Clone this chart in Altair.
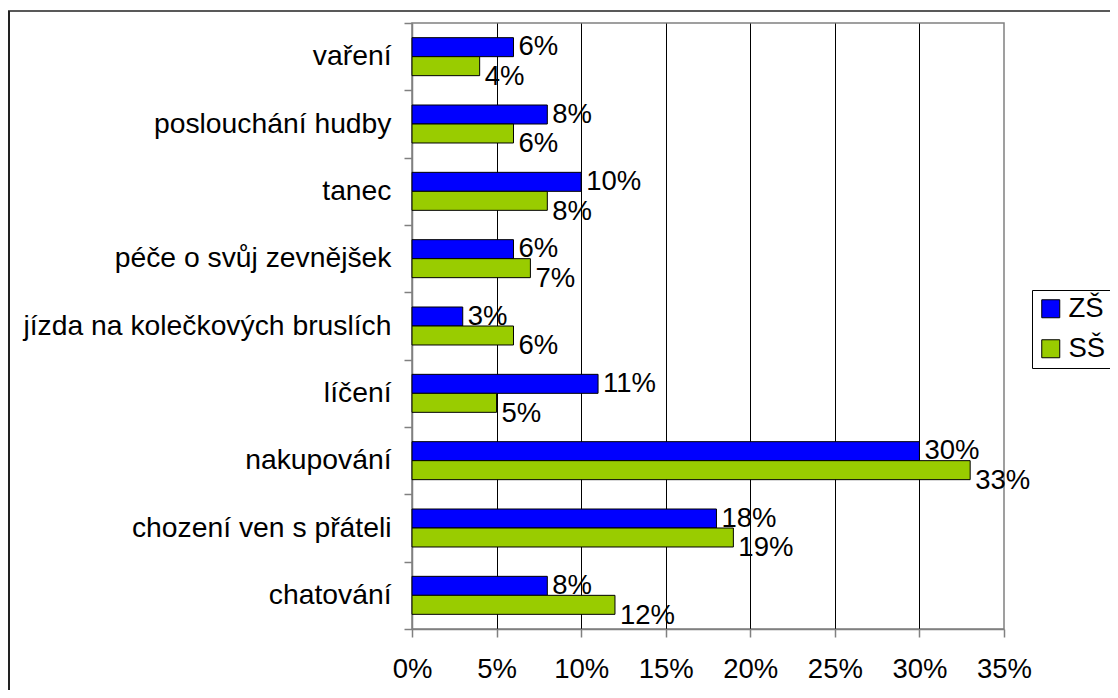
import altair as alt
import pandas as pd

categories = [
    "vaření",
    "poslouchání hudby",
    "tanec",
    "péče o svůj zevnějšek",
    "jízda na kolečkových bruslích",
    "líčení",
    "nakupování",
    "chození ven s přáteli",
    "chatování",
]
groups = ["ZŠ", "SŠ"]
zs_values = [6, 8, 10, 6, 3, 11, 30, 18, 8]
ss_values = [4, 6, 8, 7, 6, 5, 33, 19, 12]
colors = ["#0000FF", "#99CC00"]
x_ticks = [0, 5, 10, 15, 20, 25, 30, 35]

rows = []
for i, c in enumerate(categories):
    rows.append({"kategorie": c, "skupina": groups[0], "hodnota": zs_values[i]})
    rows.append({"kategorie": c, "skupina": groups[1], "hodnota": ss_values[i]})
df = pd.DataFrame(rows)

FONT = "Liberation Sans"
FS = 27.5
GRAY = "#808080"

y_enc = alt.Y(
    "kategorie:N",
    sort=categories,
    scale=alt.Scale(paddingInner=0, paddingOuter=0),
    axis=alt.Axis(
        title=None,
        tickBand="extent",
        domainColor=GRAY,
        domainWidth=1.5,
        tickColor=GRAY,
        tickWidth=1.5,
        tickSize=8,
        labelFontSize=28.3,
        labelFont=FONT,
        labelColor="black",
        labelPadding=13,
        labelLimit=0,
        grid=False,
    ),
)
yoff = alt.YOffset(
    "skupina:N", sort=groups, scale=alt.Scale(paddingInner=0, paddingOuter=0.772)
)
x_enc = alt.X(
    "hodnota:Q",
    scale=alt.Scale(domain=[0, 35], nice=False),
    axis=alt.Axis(
        title=None,
        values=x_ticks,
        labelExpr="datum.value + '%'",
        labelFlush=False,
        labelFontSize=FS,
        labelFont=FONT,
        labelColor="black",
        labelPadding=18,
        domainColor=GRAY,
        domainWidth=1.5,
        tickColor=GRAY,
        tickWidth=1.5,
        tickSize=8,
        grid=True,
        gridColor="black",
        gridWidth=1,
        gridOpacity={
            "condition": {"test": "datum.value <= 0 || datum.value >= 35", "value": 0},
            "value": 1,
        },
    ),
)

bars = alt.Chart(df).mark_bar(stroke="black", strokeWidth=1).encode(
    y=y_enc,
    yOffset=yoff,
    x=x_enc,
    color=alt.Color(
        "skupina:N",
        sort=groups,
        scale=alt.Scale(domain=groups, range=colors),
        legend=alt.Legend(
            title=None,
            orient="none",
            legendX=620,
            legendY=267,
            direction="vertical",
            strokeColor="black",
            fillColor="white",
            padding=5,
            symbolType="square",
            symbolSize=324,
            symbolStrokeColor="black",
            symbolStrokeWidth=1,
            symbolOpacity=1,
            labelFontSize=FS,
            labelFont=FONT,
            labelColor="black",
            rowPadding=11,
            labelOffset=4,
        ),
    ),
)


def label_layer(group, dy):
    return (
        alt.Chart(df)
        .transform_filter(alt.datum.skupina == group)
        .transform_calculate(txt="datum.hodnota + '%'")
        .mark_text(
            align="left",
            baseline="middle",
            dx=5,
            dy=dy,
            fontSize=FS,
            font=FONT,
            color="black",
        )
        .encode(
            y=alt.Y("kategorie:N", sort=categories),
            yOffset=alt.YOffset("skupina:N", sort=groups),
            x=alt.X("hodnota:Q"),
            text="txt:N",
        )
    )


frame_data = alt.Data(values=[{"f": 1}])
frame_left = alt.Chart(frame_data).mark_rule(color="#222222", strokeWidth=2).encode(
    x=alt.value(-403), y=alt.value(-12), y2=alt.value(700)
)
frame_top = alt.Chart(frame_data).mark_rule(color="#222222", strokeWidth=1.5).encode(
    x=alt.value(-404), x2=alt.value(720), y=alt.value(-12)
)

chart = (
    alt.layer(bars, label_layer("ZŠ", 0), label_layer("SŠ", 11), frame_left, frame_top)
    .properties(
        width=592,
        height=606,
        autosize=alt.AutoSizeParams(type="none"),
        padding={"left": 404, "top": 15, "right": 106, "bottom": 61},
    )
    .configure_view(stroke=GRAY, strokeWidth=1.5)
)

chart.save("out.html", embed_options={"renderer": "svg", "actions": False})
